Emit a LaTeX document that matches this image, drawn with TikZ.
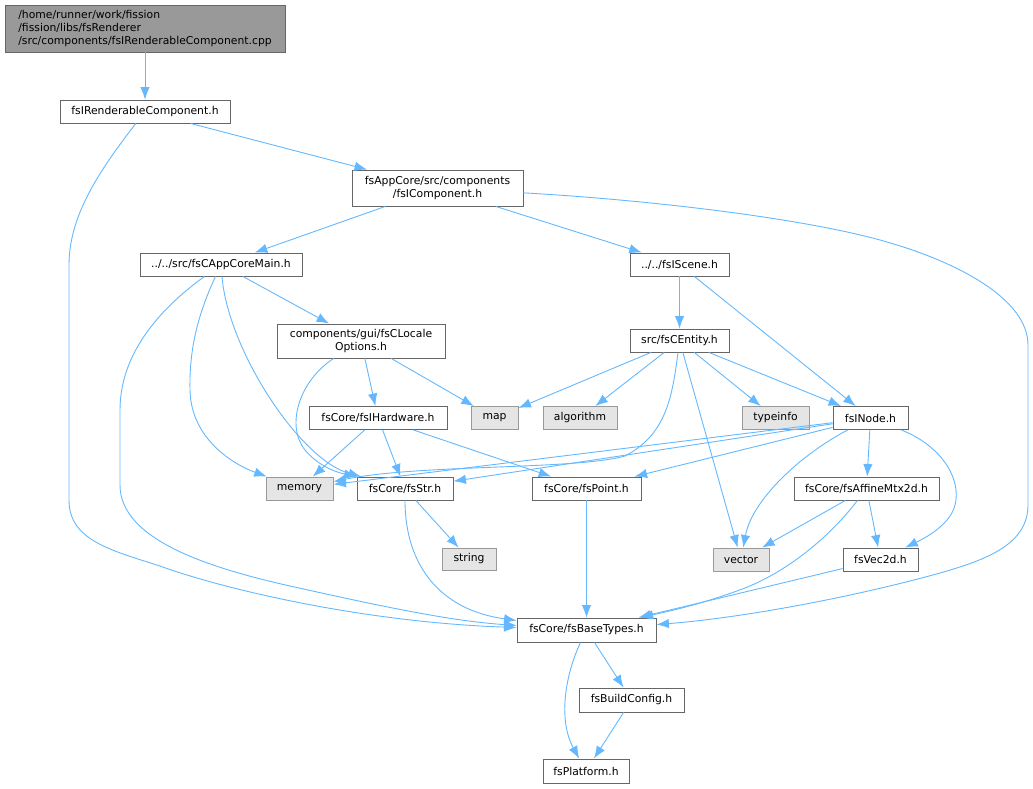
\documentclass[tikz,border=0pt]{standalone}
\usepackage{fontspec}
\setmainfont{DejaVu Sans}
\usetikzlibrary{arrows.meta}
\definecolor{edgeblue}{HTML}{63B8FF}
\definecolor{grey40}{HTML}{666666}
\definecolor{grey60}{HTML}{999999}
\definecolor{grey90}{HTML}{E5E5E5}
\tikzset{
  basic/.style  = {draw=grey40, line width=0.9pt, rectangle, inner sep=2pt,
                   font=\fontsize{10.8}{12.6}\selectfont, minimum height=23pt},
  root/.style   = {basic, fill=grey60, align=left},
  header/.style = {basic, fill=white, align=center},
  system/.style = {basic, draw=grey60, fill=grey90},
  link/.style   = {->, draw=edgeblue, line width=0.9pt}
}

\begin{document}
\begin{tikzpicture}[x=1pt, y=-1pt, >={Latex[length=12.5pt,width=9.5pt]}]
\useasboundingbox (0,0) rectangle (1033,788);

% the source file
\node[root, minimum width=280pt, minimum height=47pt] (cpp) at (145,28.5)
  {/home/runner/work/fission\\/fission/libs/fsRenderer\\/src/components/fsIRenderableComponent.cpp};

% included headers
\node[header, minimum width=170pt] (rend) at (145,111.5) {fsIRenderableComponent.h};
\node[header, minimum width=171pt, minimum height=36pt] (comp) at (437.5,188)
  {fsAppCore/src/components\\/fsIComponent.h};
\node[header, minimum width=162pt] (main) at (221,264.5) {../../src/fsCAppCoreMain.h};
\node[header, minimum width=99pt] (scene) at (679.5,264.5) {../../fsIScene.h};
\node[header, minimum width=168pt, minimum height=34pt] (locale) at (361,341)
  {components/gui/fsCLocale\\Options.h};
\node[header, minimum width=99pt] (entity) at (679.5,340.5) {src/fsCEntity.h};
\node[header, minimum width=138pt] (hw) at (378,418) {fsCore/fsIHardware.h};
\node[header, minimum width=75pt] (inode) at (870.5,418) {fsINode.h};
\node[header, minimum width=96pt] (str) at (405,488.5) {fsCore/fsStr.h};
\node[header, minimum width=109pt] (point) at (586.5,488.5) {fsCore/fsPoint.h};
\node[header, minimum width=145pt] (affine) at (866.5,488.5) {fsCore/fsAffineMtx2d.h};
\node[header, minimum width=75pt] (vec2d) at (880.5,559.5) {fsVec2d.h};
\node[header, minimum width=139pt, minimum height=24pt] (base) at (586.5,630) {fsCore/fsBaseTypes.h};
\node[header, minimum width=105pt, minimum height=24pt] (build) at (631.5,700) {fsBuildConfig.h};
\node[header, minimum width=86pt, minimum height=24pt] (plat) at (586,771) {fsPlatform.h};

% system headers
\begin{scope}[every node/.style={system}]
\node[minimum width=47pt] (map) at (494.5,418) {map};
\node[minimum width=74pt] (algo) at (580,418) {algorithm};
\node[minimum width=67pt] (tinfo) at (775.5,418) {typeinfo};
\node[minimum width=67pt] (mem) at (299.5,488.5) {memory};
\node[minimum width=56pt] (vector) at (741,559.5) {vector};
\node[minimum width=54pt, minimum height=22pt] (stringh) at (469,559) {string};
\end{scope}

% straight includes
\draw[link] (cpp) -- (rend);
\draw[link] (rend) -- (comp);
\foreach \dst in {main,scene}
  \draw[link] (comp) -- (\dst);
\draw[link] (main) -- (locale);
\foreach \dst in {hw,map}
  \draw[link] (locale) -- (\dst);
\foreach \dst in {mem,str,point}
  \draw[link] (hw) -- (\dst);
\foreach \dst in {entity,inode}
  \draw[link] (scene) -- (\dst);
\foreach \dst in {map,algo,tinfo,inode,vector}
  \draw[link] (entity) -- (\dst);
\foreach \dst in {mem,str,point,affine}
  \draw[link] (inode) -- (\dst);
\foreach \dst in {vector,vec2d}
  \draw[link] (affine) -- (\dst);
\draw[link] (str) -- (stringh);
\foreach \src in {point,vec2d}
  \draw[link] (\src) -- (base);
\draw[link] (base) -- (build);
\draw[link] (build) -- (plat);

% curved includes
\draw[link] (rend) .. controls (100,170) and (69,215) .. (69,265) -- (69,500)
  .. controls (69,540) and (110,550) .. (160,566)
  .. controls (220,588) and (360,622) .. (base);
\draw[link] (main) .. controls (165,305) and (120,350) .. (120,410) -- (120,485)
  .. controls (120,540) and (210,568) .. (290,586)
  .. controls (380,606) and (450,621) .. (base);
\draw[link] (main) .. controls (200,310) and (189,345) .. (190,390)
  .. controls (191,440) and (235,465) .. (mem);
\draw[link] (main) .. controls (228,350) and (300,460) .. (str);
\draw[link] (locale) .. controls (300,380) and (285,425) .. (305,450)
  .. controls (320,468) and (340,473) .. (str);
\draw[link] (comp) .. controls (650,200) and (800,218) .. (880,240)
  .. controls (960,262) and (1028,300) .. (1028,345) -- (1028,505)
  .. controls (1028,545) and (985,560) .. (940,573)
  .. controls (850,598) and (740,618) .. (base);
\draw[link] (entity) .. controls (672,400) and (665,435) .. (625,456)
  .. controls (575,470) and (420,464) .. (mem);
\draw[link] (inode) .. controls (800,455) and (752,500) .. (vector);
\draw[link] (inode) .. controls (940,445) and (962,478) .. (955,505)
  .. controls (950,525) and (925,538) .. (vec2d);
\draw[link] (affine) .. controls (835,530) and (795,568) .. (745,588)
  .. controls (700,605) and (665,612) .. (base);
\draw[link] (str) .. controls (405,565) and (440,610) .. (base);
\draw[link] (base) .. controls (565,675) and (558,720) .. (plat);
\end{tikzpicture}
\end{document}
